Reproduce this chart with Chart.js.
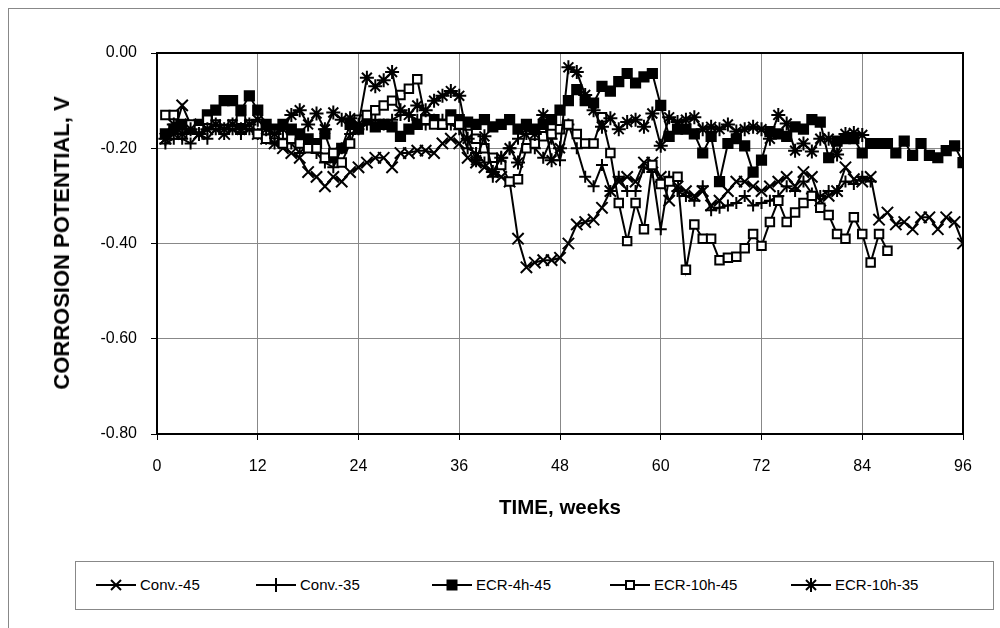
<!DOCTYPE html>
<html>
<head>
<meta charset="utf-8">
<title>Corrosion potential</title>
<script src="https://cdn.jsdelivr.net/npm/chart.js@4.4.1/dist/chart.umd.min.js"></script>
<style>
    html, body { margin: 0; padding: 0; background: #fff; }
    #wrap { position: relative; width: 1000px; height: 628px; overflow: hidden; font-family: "Liberation Sans", Arial, sans-serif; }
    #frame { position: absolute; left: 8px; top: 8px; width: 1000px; height: 700px; border-left: 1px solid #888; border-top: 1px solid #888; }
    #myChart { position: absolute; left: 0; top: 0; }
    .axis-title { position: absolute; font-weight: bold; color: #000; white-space: nowrap; }
    #y-title { left: 62px; top: 243px; font-size: 22px; transform: translate(-50%, -50%) rotate(-90deg); }
    #x-title { left: 560px; top: 507px; font-size: 20.5px; transform: translate(-50%, -50%); }
    #legend { position: absolute; left: 75px; top: 561px; width: 917px; height: 47px; border: 1px solid #888; background: #fff; }
    .item { position: absolute; top: 14px; display: flex; align-items: center; font-size: 15px; color: #000; }
    .item svg { margin-right: 4px; }
</style>
</head>
<body>
<div id="wrap">
    <div id="frame"></div>
    <canvas id="myChart" width="1000" height="628"></canvas>
    <div class="axis-title" id="y-title">CORROSION POTENTIAL, V</div>
    <div class="axis-title" id="x-title">TIME, weeks</div>
    <div id="legend"></div>
</div>
<script>
// series names and readings (V), one reading per week starting at week 1
const seriesNames = ["Conv.-45", "Conv.-35", "ECR-4h-45", "ECR-10h-45", "ECR-10h-35"];

const conv45 = [-0.18,-0.17,-0.11,-0.15,-0.17,-0.16,-0.16,-0.17,-0.16,-0.15,-0.16,-0.17,
    -0.18,-0.19,-0.20,-0.21,-0.22,-0.25,-0.26,-0.28,-0.26,-0.27,-0.25,-0.24,
    -0.23,-0.22,-0.22,-0.24,-0.21,-0.21,-0.205,-0.205,-0.21,-0.19,-0.18,-0.19,
    -0.22,-0.23,-0.24,-0.25,-0.26,-0.27,-0.39,-0.45,-0.44,-0.435,-0.435,-0.43,
    -0.40,-0.36,-0.355,-0.35,-0.325,-0.29,-0.27,-0.26,-0.27,-0.23,-0.23,-0.26,
    -0.31,-0.28,-0.29,-0.30,-0.29,-0.32,-0.31,-0.29,-0.27,-0.27,-0.28,-0.29,
    -0.28,-0.27,-0.26,-0.28,-0.25,-0.26,-0.31,-0.30,-0.29,-0.24,-0.265,-0.27,
    -0.26,-0.35,-0.335,-0.36,-0.355,-0.37,-0.345,-0.345,-0.37,-0.345,-0.355,-0.40];

const conv35 = [-0.19,-0.18,-0.18,-0.19,-0.17,-0.18,-0.16,-0.17,-0.16,-0.17,-0.16,-0.17,
    -0.18,-0.19,-0.18,-0.19,-0.21,-0.19,-0.21,-0.23,-0.24,-0.20,-0.17,-0.16,
    -0.15,-0.14,-0.15,-0.14,-0.13,-0.13,-0.14,-0.15,-0.14,-0.14,-0.15,-0.16,
    -0.20,-0.21,-0.23,-0.26,-0.22,-0.20,-0.18,-0.17,-0.20,-0.22,-0.18,-0.225,
    -0.15,-0.20,-0.26,-0.28,-0.235,-0.29,-0.26,-0.29,-0.29,-0.24,-0.25,-0.37,
    -0.26,-0.29,-0.30,-0.31,-0.28,-0.33,-0.325,-0.32,-0.315,-0.30,-0.32,-0.315,
    -0.31,-0.30,-0.28,-0.29,-0.27,-0.295,-0.30,-0.29,-0.29,-0.27,-0.275,-0.26,-0.27];

const ecr4h45 = [-0.17,-0.16,-0.15,-0.16,-0.15,-0.13,-0.12,-0.10,-0.10,-0.12,-0.09,-0.12,
    -0.15,-0.16,-0.15,-0.16,-0.17,-0.18,-0.19,-0.17,-0.22,-0.20,-0.15,-0.16,
    -0.14,-0.155,-0.15,-0.155,-0.175,-0.16,-0.15,-0.14,-0.14,-0.15,-0.13,-0.14,
    -0.145,-0.15,-0.14,-0.155,-0.15,-0.14,-0.16,-0.15,-0.16,-0.15,-0.14,-0.12,
    -0.10,-0.077,-0.10,-0.105,-0.07,-0.08,-0.06,-0.043,-0.063,-0.05,-0.043,-0.11,
    -0.175,-0.16,-0.16,-0.17,-0.21,-0.175,-0.27,-0.19,-0.18,-0.195,-0.25,-0.225,
    -0.165,-0.17,-0.175,-0.155,-0.16,-0.14,-0.145,-0.22,-0.185,-0.18,-0.18,-0.21,
    -0.19,-0.19,-0.19,-0.21,-0.185,-0.215,-0.19,-0.215,-0.22,-0.205,-0.195,-0.23];

const ecr10h45 = [-0.13,-0.13,-0.17,-0.15,-0.16,-0.14,-0.15,-0.16,-0.15,-0.14,-0.15,-0.17,
    -0.18,-0.17,-0.19,-0.18,-0.19,-0.20,-0.20,-0.22,-0.21,-0.23,-0.19,-0.14,
    -0.13,-0.12,-0.11,-0.10,-0.088,-0.075,-0.055,-0.14,-0.15,-0.15,-0.14,-0.15,
    -0.17,-0.18,-0.20,-0.22,-0.235,-0.27,-0.265,-0.20,-0.19,-0.175,-0.17,-0.16,
    -0.15,-0.17,-0.19,-0.19,-0.135,-0.21,-0.315,-0.395,-0.315,-0.37,-0.235,-0.275,
    -0.27,-0.26,-0.455,-0.36,-0.39,-0.39,-0.435,-0.43,-0.428,-0.41,-0.38,-0.405,
    -0.355,-0.31,-0.355,-0.335,-0.315,-0.30,-0.325,-0.34,-0.38,-0.39,-0.345,-0.38,
    -0.44,-0.38,-0.415];

const ecr10h35 = [-0.18,-0.15,-0.17,-0.16,-0.17,-0.16,-0.15,-0.16,-0.15,-0.16,-0.15,-0.14,
    -0.16,-0.17,-0.16,-0.13,-0.12,-0.15,-0.127,-0.16,-0.125,-0.14,-0.137,-0.15,
    -0.052,-0.07,-0.057,-0.04,-0.12,-0.13,-0.11,-0.12,-0.10,-0.09,-0.08,-0.09,
    -0.18,-0.225,-0.175,-0.25,-0.22,-0.20,-0.23,-0.16,-0.17,-0.13,-0.225,-0.20,
    -0.03,-0.04,-0.088,-0.12,-0.155,-0.137,-0.16,-0.145,-0.14,-0.155,-0.127,-0.195,
    -0.135,-0.145,-0.14,-0.135,-0.16,-0.155,-0.16,-0.15,-0.165,-0.16,-0.155,-0.16,
    -0.18,-0.13,-0.148,-0.205,-0.19,-0.207,-0.18,-0.18,-0.213,-0.17,-0.168,-0.172];

const xTicks = [0, 12, 24, 36, 48, 60, 72, 84, 96];
const yTicks = [0, -0.2, -0.4, -0.6, -0.8];

document.addEventListener("DOMContentLoaded", () => {
    const allSeries = [conv45, conv35, ecr4h45, ecr10h45, ecr10h35];
    const styles = [
        { pointStyle: "crossRot", radius: 8, fill: "#000" },
        { pointStyle: "cross", radius: 6, fill: "#000" },
        { pointStyle: "rect", radius: 6.5, fill: "#000" },
        { pointStyle: "rect", radius: 6, fill: "#fff" },
        { pointStyle: "star", radius: 7, fill: "#000" }
    ];

    const datasets = allSeries.map((vals, i) => ({
        label: seriesNames[i],
        data: vals.map((v, k) => ({ x: k + 1, y: v })),
        borderColor: "#000",
        borderWidth: 2,
        pointStyle: styles[i].pointStyle,
        pointRadius: styles[i].radius,
        pointBorderColor: "#000",
        pointBackgroundColor: styles[i].fill,
        pointBorderWidth: 2,
        tension: 0,
        order: 4 - i
    }));

    // black box round the plot area (top and right sides)
    const plotFrame = {
        id: "plotFrame",
        beforeDatasetsDraw(chart) {
            const a = chart.chartArea;
            const ctx = chart.ctx;
            ctx.save();
            ctx.strokeStyle = "#000";
            ctx.lineWidth = 2;
            ctx.strokeRect(a.left, a.top, a.right - a.left, a.bottom - a.top);
            ctx.restore();
        }
    };

    const tickFont = { family: "'Liberation Sans', Arial, sans-serif", size: 16 };

    new Chart(document.getElementById("myChart"), {
        type: "line",
        data: { datasets: datasets },
        plugins: [plotFrame],
        options: {
            responsive: false,
            animation: false,
            layout: { padding: { left: 0, top: 53, right: 37, bottom: 0 } },
            plugins: { legend: { display: false }, tooltip: { enabled: false } },
            scales: {
                x: {
                    type: "linear",
                    min: xTicks[0],
                    max: xTicks[xTicks.length - 1],
                    afterBuildTicks: s => { s.ticks = xTicks.map(v => ({ value: v })); },
                    afterFit: s => { s.height = 194; },
                    grid: { color: "#888", lineWidth: 1, tickLength: 6, tickColor: "#000" },
                    border: { color: "#000", width: 2 },
                    ticks: { color: "#000", font: tickFont, padding: 17, maxRotation: 0 }
                },
                y: {
                    min: yTicks[yTicks.length - 1],
                    max: yTicks[0],
                    afterBuildTicks: s => { s.ticks = yTicks.map(v => ({ value: v })); },
                    afterFit: s => { s.width = 157; },
                    grid: { color: "#888", lineWidth: 1, tickLength: 6, tickColor: "#000" },
                    border: { color: "#000", width: 2 },
                    ticks: { color: "#000", font: tickFont, padding: 14, callback: v => v.toFixed(2) }
                }
            }
        }
    });

    // legend: line with marker, then the name
    const legendLeft = [20, 180, 356, 534, 715];
    const markerSvg = [
        '<line x1="15" y1="2" x2="25" y2="12"/><line x1="25" y1="2" x2="15" y2="12"/>',
        '<line x1="20" y1="0" x2="20" y2="14"/><line x1="13" y1="7" x2="27" y2="7"/>',
        '<rect x="15.5" y="2.5" width="9" height="9" fill="#000"/>',
        '<rect x="16" y="3" width="8" height="8" fill="#fff"/>',
        '<line x1="20" y1="0" x2="20" y2="14"/><line x1="15" y1="2" x2="25" y2="12"/><line x1="25" y1="2" x2="15" y2="12"/>'
    ];
    const legend = document.getElementById("legend");
    seriesNames.forEach((name, i) => {
        const item = document.createElement("div");
        item.className = "item";
        item.style.left = legendLeft[i] + "px";
        item.innerHTML = `
            <svg width="40" height="14" stroke="#000" stroke-width="2" fill="none">
                <line x1="0" y1="7" x2="40" y2="7"/>${markerSvg[i]}
            </svg><span>${name}</span>`;
        legend.appendChild(item);
    });
});
</script>
</body>
</html>
